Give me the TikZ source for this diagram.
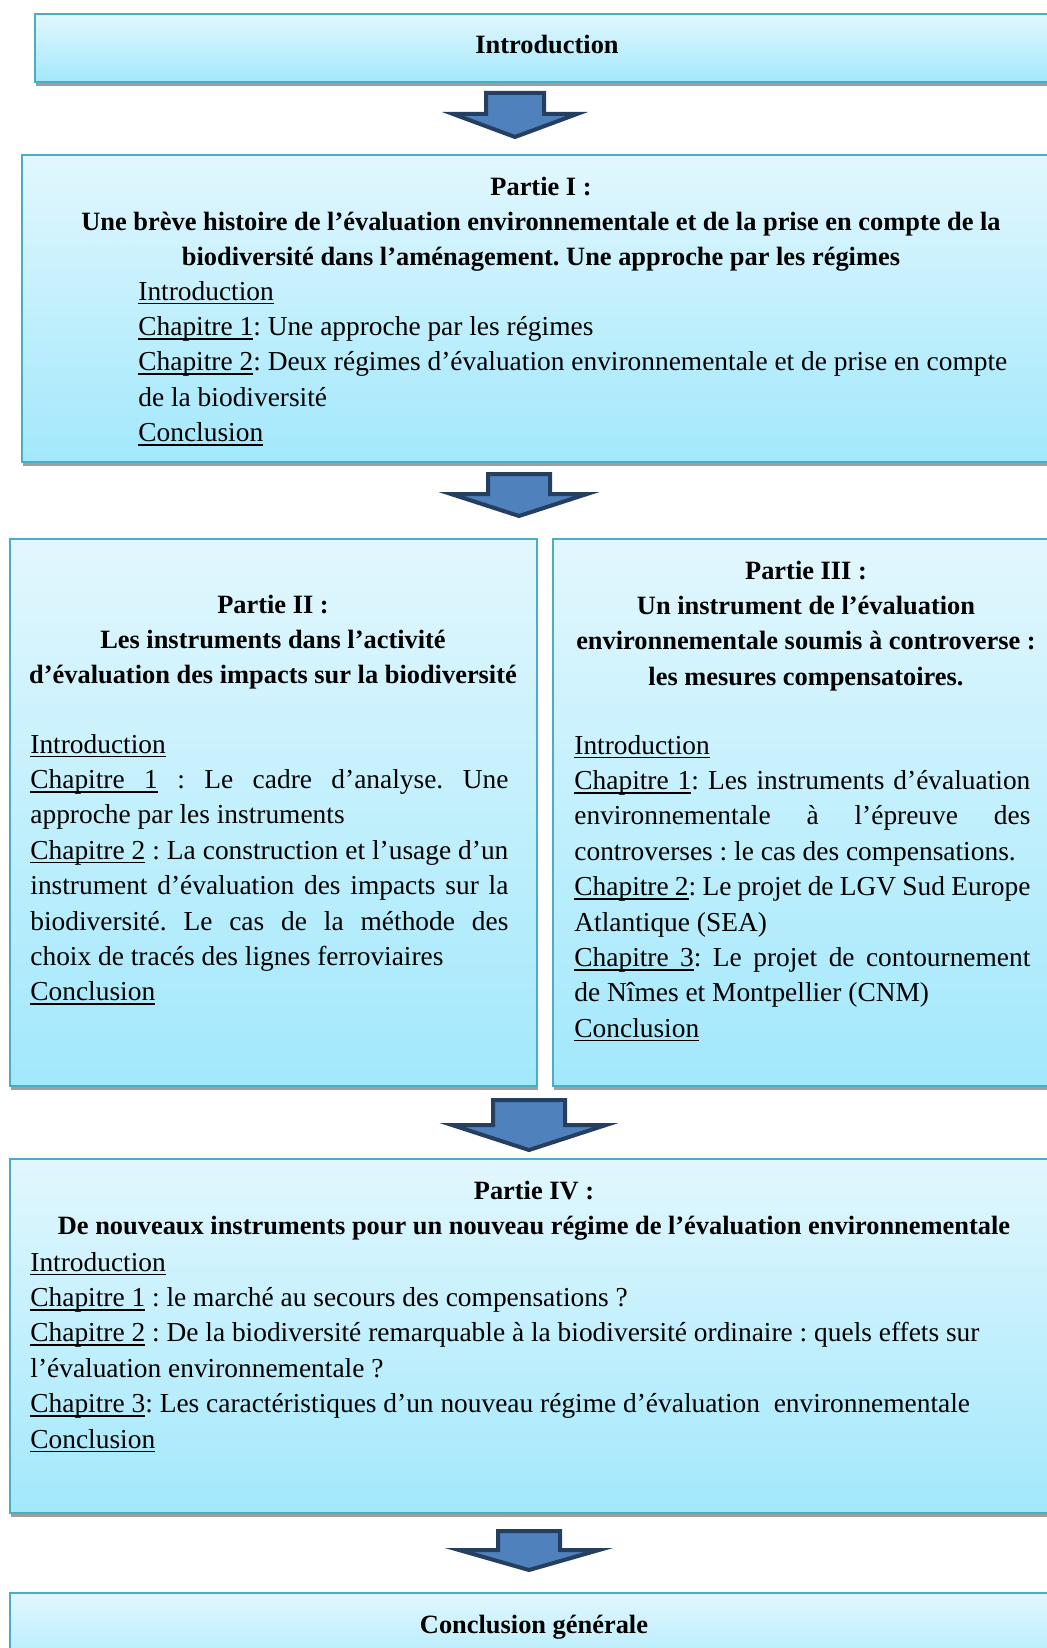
\documentclass[tikz,border=0pt]{standalone}
\usepackage{fontspec}
\setmainfont{Liberation Serif}
\usetikzlibrary{fit,shadows}

\definecolor{boxtop}{RGB}{226,247,253}
\definecolor{boxbot}{RGB}{162,232,252}
\definecolor{boxline}{RGB}{75,172,198}
\definecolor{arrfill}{RGB}{79,129,189}
\definecolor{arrline}{RGB}{36,63,96}

\tolerance=10000
\hyphenpenalty=10000
\frenchspacing
\newsavebox\ulsave
\newcommand\ulbox[1]{\sbox\ulsave{#1}\rlap{\rule[-2pt]{\wd\ulsave}{0.8pt}}\usebox\ulsave}
\newcommand\ulsp{\leaders\hrule height -1.2pt depth 2pt\hskip\fontdimen2\font plus\fontdimen3\font minus\fontdimen4\font}
\newcommand\ulchap[1]{\ulbox{Chapitre}\ulsp\ulbox{#1}}

\begin{document}
\begin{tikzpicture}[x=0.5pt, y=-0.5pt,
  part/.style={draw=boxline, line width=1pt, top color=boxtop, bottom color=boxbot, inner sep=0pt,
    drop shadow={shadow xshift=0.5pt, shadow yshift=-2pt, fill=black!38, opacity=1}},
  parthead/.style={anchor=north, inner sep=0pt, align=center, font=\fontsize{13.2}{17.7}\selectfont\bfseries},
  chaps/.style={anchor=north west, inner sep=0pt, align=left, font=\fontsize{13.7}{17.7}\selectfont},
  blkarrow/.style={draw=arrline, fill=arrfill, line width=2pt, line join=miter}]
\useasboundingbox (0,0) rectangle (1046,1648);
\def\xr{1070}

\node[part, fit={(35,14) (\xr,82)}] (intro) {};
\node[part, fit={(22,155) (\xr,462)}] (p1) {};
\node[part, fit={(10,539) (537,1086)}] (p2) {};
\node[part, fit={(553,539) (\xr,1086)}] (p3) {};
\node[part, fit={(10,1159) (\xr,1513)}] (p4) {};
\node[part, fit={(10,1593) (\xr,1690)}] (concl) {};

\coordinate (a1) at (515,93);
\coordinate (a2) at (519,474);
\coordinate (a3) at (529,1100);
\coordinate (a4) at (529,1531);
\draw[blkarrow] (a1) ++(-29,0) -- ++(58,0) -- ++(0,21) -- ++(33,0) -- ++(-62,23) -- ++(-62,-23) -- ++(33,0) -- cycle;
\draw[blkarrow] (a2) ++(-31,0) -- ++(62,0) -- ++(0,20) -- ++(37,0) -- ++(-68,22) -- ++(-68,-22) -- ++(37,0) -- cycle;
\draw[blkarrow] (a3) ++(-36,0) -- ++(72,0) -- ++(0,25) -- ++(41,0) -- ++(-77,25) -- ++(-77,-25) -- ++(41,0) -- cycle;
\draw[blkarrow] (a4) ++(-31,0) -- ++(62,0) -- ++(0,19) -- ++(39,0) -- ++(-70,20) -- ++(-70,-20) -- ++(39,0) -- cycle;

\node[font=\fontsize{13.2}{17.7}\selectfont\bfseries, inner sep=0pt, anchor=base] (intro-t) at (547,54) {Introduction};

\node[parthead] (p1-head) at (541,170) {\strut Partie I :\\
Une brève histoire de l'évaluation environnementale et de la prise en compte de la\\
biodiversité dans l'aménagement. Une approche par les régimes};
\node[chaps] (p1-list) at (138,275) {\strut\ulbox{Introduction}\\
\ulchap{1}: Une approche par les régimes\\
\ulchap{2}: Deux régimes d'évaluation environnementale et de prise en compte\\
de la biodiversité\\
\ulbox{Conclusion}};

\node[parthead] (p2-head) at (273,588) {\strut Partie II :\\
Les instruments dans l'activité\\
d'évaluation des impacts sur la biodiversité};
\node[chaps, text width=239pt, align=justify] (p2-list) at (30,728) {\noindent\strut\ulbox{Introduction}\\
\ulchap{1} : Le cadre d'analyse. Une\linebreak approche par les instruments\\
\ulchap{2} : La construction et l'usage d'un\linebreak instrument d'évaluation des impacts sur la\linebreak biodiversité. Le cas de la méthode des\linebreak choix de tracés des lignes ferroviaires\\
\ulbox{Conclusion}};

\node[parthead] (p3-head) at (806,554) {\strut Partie III :\\
Un instrument de l'évaluation\\
environnementale soumis à controverse :\\
les mesures compensatoires.};
\node[chaps, text width=228pt, align=justify] (p3-list) at (574,729) {\noindent\strut\ulbox{Introduction}\\
\ulchap{1}: Les instruments d'évaluation\linebreak environnementale à l'épreuve des\linebreak controverses : le cas des compensations.\\
\ulchap{2}: Le projet de LGV Sud Europe\linebreak Atlantique (SEA)\\
\ulchap{3}: Le projet de contournement\linebreak de Nîmes et Montpellier (CNM)\\
\ulbox{Conclusion}};

\node[parthead] (p4-head) at (534,1174) {\strut Partie IV :\\
De nouveaux instruments pour un nouveau régime de l'évaluation environnementale};
\node[chaps] (p4-list) at (30,1246) {\strut\ulbox{Introduction}\\
\ulchap{1} : le marché au secours des compensations ?\\
\ulchap{2} : De la biodiversité remarquable à la biodiversité ordinaire : quels effets sur\\
l'évaluation environnementale ?\\
\ulchap{3}: Les caractéristiques d'un nouveau régime d'évaluation\ \ environnementale\\
\ulbox{Conclusion}};

\node[font=\fontsize{13.2}{17.7}\selectfont\bfseries, inner sep=0pt, anchor=base] (concl-t) at (534,1633) {Conclusion générale};

\end{tikzpicture}
\end{document}
